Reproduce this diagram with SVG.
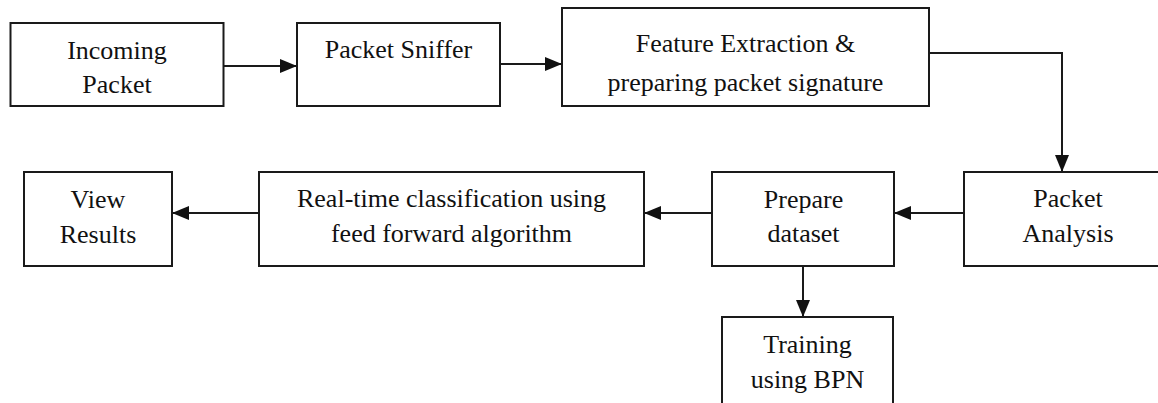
<svg xmlns="http://www.w3.org/2000/svg" width="1158" height="403" viewBox="0 0 1158 403">
<style>
.box{fill:#fff;stroke:#1a1a1a;stroke-width:2}
.lbl{font-family:"Liberation Serif","Times New Roman",serif;font-size:26px;fill:#111;text-anchor:middle}
.conn{fill:none;stroke:#1a1a1a;stroke-width:2}
</style>
<defs>
<marker id="ah" markerUnits="userSpaceOnUse" markerWidth="17" markerHeight="14" refX="17" refY="7" orient="auto">
<path d="M0,0 L17,7 L0,14 z" fill="#111"/>
</marker>
</defs>
<rect width="1158" height="403" fill="#fff"/>
<g id="connectors">
<path class="conn" d="M223,66 H297" marker-end="url(#ah)"/>
<path class="conn" d="M500,64 H562" marker-end="url(#ah)"/>
<path class="conn" d="M929,53 H1062 V172" marker-end="url(#ah)"/>
<path class="conn" d="M964,213 H894" marker-end="url(#ah)"/>
<path class="conn" d="M712,213 H644" marker-end="url(#ah)"/>
<path class="conn" d="M259,213 H172" marker-end="url(#ah)"/>
<path class="conn" d="M803,266 V317" marker-end="url(#ah)"/>
</g>
<g id="incoming-packet">
<rect class="box" x="10.5" y="23" width="213" height="83"/>
<text class="lbl" x="117" y="59">Incoming</text>
<text class="lbl" x="117" y="93">Packet</text>
</g>
<g id="packet-sniffer">
<rect class="box" x="297" y="23" width="203" height="83"/>
<text class="lbl" x="398.5" y="58">Packet Sniffer</text>
</g>
<g id="feature-extraction">
<rect class="box" x="562" y="8" width="367" height="98"/>
<text class="lbl" x="745.5" y="52">Feature Extraction &amp;</text>
<text class="lbl" x="745.5" y="91">preparing packet signature</text>
</g>
<g id="packet-analysis">
<rect class="box" x="964" y="172" width="210" height="94"/>
<text class="lbl" x="1068" y="207">Packet</text>
<text class="lbl" x="1068" y="242">Analysis</text>
</g>
<g id="prepare-dataset">
<rect class="box" x="712" y="172" width="182" height="94"/>
<text class="lbl" x="803.5" y="208">Prepare</text>
<text class="lbl" x="803.5" y="242">dataset</text>
</g>
<g id="real-time-classification">
<rect class="box" x="259" y="172" width="385" height="94"/>
<text class="lbl" x="451.5" y="207">Real-time classification using</text>
<text class="lbl" x="451.5" y="242">feed forward algorithm</text>
</g>
<g id="view-results">
<rect class="box" x="24" y="172" width="148" height="94"/>
<text class="lbl" x="98" y="208">View</text>
<text class="lbl" x="98" y="243">Results</text>
</g>
<g id="training-bpn">
<rect class="box" x="722" y="317" width="171" height="100"/>
<text class="lbl" x="807.5" y="353">Training</text>
<text class="lbl" x="807.5" y="388">using BPN</text>
</g>
</svg>
